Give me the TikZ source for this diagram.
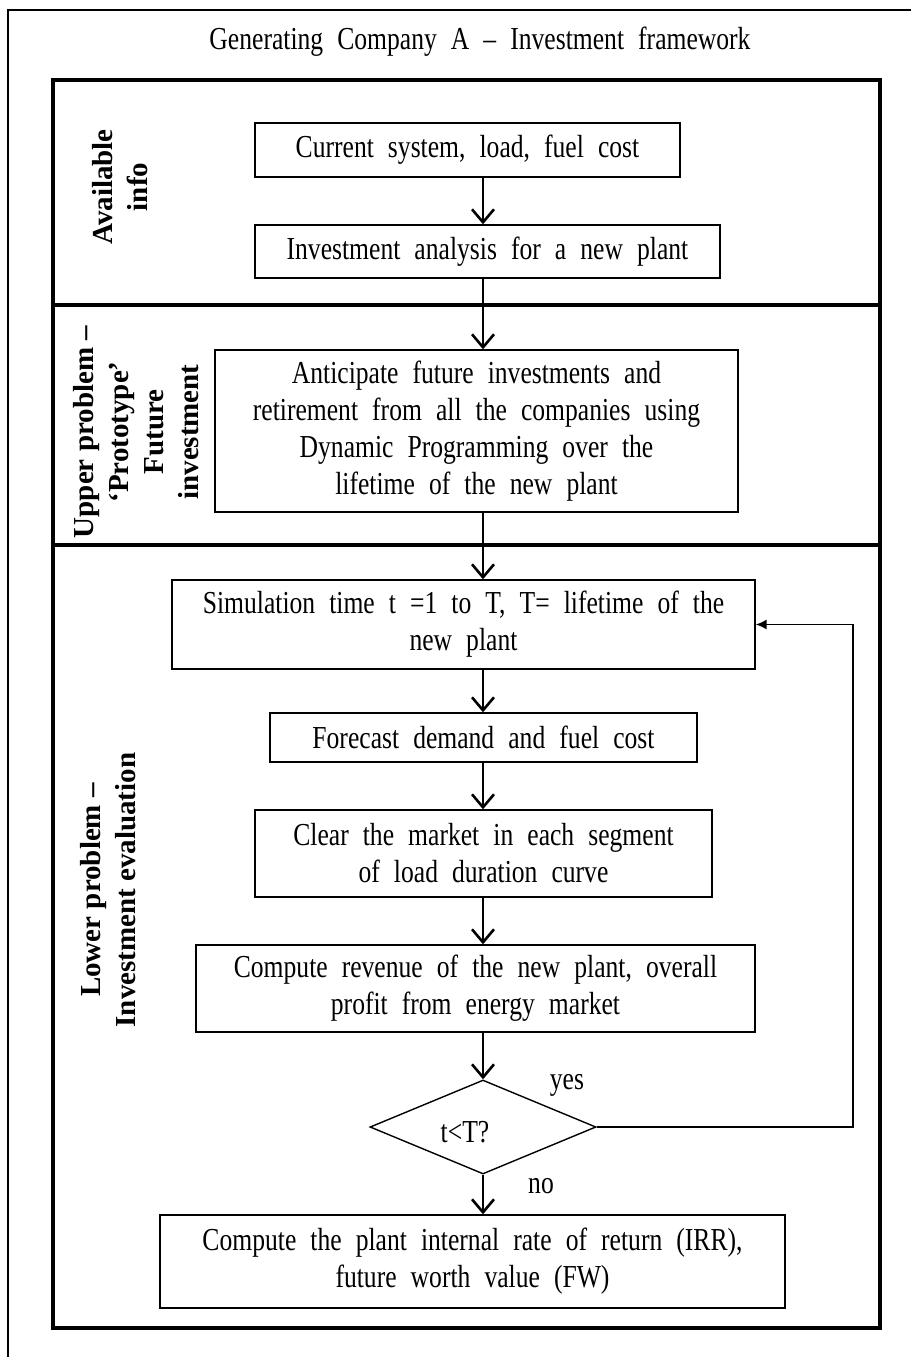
\documentclass[tikz,border=0pt]{standalone}
\usepackage{fontspec}
\setmainfont{Liberation Serif}[FakeStretch=0.8, WordSpace=2.2]
\newfontfamily\bandfont{Liberation Serif}[Ligatures=TeX]
\usetikzlibrary{arrows.meta,shapes.geometric}
\begin{document}
\begin{tikzpicture}[x=1pt,y=-1pt,
  txt/.style={font=\fontsize{32}{37}\selectfont, align=center},
  box/.style={draw, line width=1.4pt, txt, inner sep=0pt},
  lbl/.style={font=\bandfont\bfseries\fontsize{29}{35}\selectfont, align=center, rotate=90},
  flow/.style={line width=2.6pt, -{Straight Barb[length=13pt,width=22pt,line width=2.6pt]}},
  loopback/.style={line width=1.5pt, -{Latex[length=11pt,width=10pt]}},
  panel/.style={line width=4pt},
]
\useasboundingbox (0,0) rectangle (911,1357);
\fill[white] (0,0) rectangle (911,1357);

% outer sheet border and title
\draw[line width=2pt] (8,1357) -- (8,10) -- (911,10);
\node[txt] (title) at (480,42) {Generating Company A – Investment framework};

% framework panel with its three bands
\draw[panel] (53,80) rectangle (880,1328);
\draw[panel] (53,305) -- (880,305);
\draw[panel] (53,545) -- (880,545);

% band labels
\node[lbl] (l1) at (120,187) {Available\\info};
\node[lbl] (l2) at (136,432) {Upper problem –\\‘Prototype’\\Future\\investment};
\node[lbl] (l3) at (108,890) {Lower problem –\\Investment evaluation};

% flow steps
\node[box, minimum width=425, minimum height=54] (b1) at (467.5,150) {Current system, load, fuel cost};
\node[box, minimum width=465, minimum height=53] (b2) at (487.5,251.5) {Investment analysis for a new plant};
\node[box, minimum width=523, minimum height=162] (b3) at (476.5,431) {Anticipate future investments and\\retirement from all the companies using\\Dynamic Programming over the\\lifetime of the new plant};
\node[box, minimum width=583, minimum height=89] (b4) at (463.5,624.5) {Simulation time t =1 to T, T= lifetime of the\\new plant};
\node[box, minimum width=427, minimum height=49] (b5) at (483.5,737.5) {Forecast demand and fuel cost};
\node[box, minimum width=457, minimum height=87] (b6) at (483.5,853.5) {Clear the market in each segment\\of load duration curve};
\node[box, minimum width=559, minimum height=87] (b7) at (475.5,988.5) {Compute revenue of the new plant, overall\\profit from energy market};
\node[draw, diamond, line width=1.4pt, txt, inner sep=0pt, minimum width=226, minimum height=94] (d) at (483,1127) {};
\node[txt] (dq) at (465,1132) {t<T?};
\node[box, minimum width=625, minimum height=93] (b9) at (472.5,1261.5) {Compute the plant internal rate of return (IRR),\\future worth value (FW)};

% connectors
\coordinate (ax) at (483,0);
\coordinate (lp) at (853,0);
\draw[flow] (b1.south -| ax) -- (b2.north -| ax);
\draw[flow] (b2.south -| ax) -- (b3.north -| ax);
\draw[flow] (b3.south -| ax) -- (b4.north -| ax);
\draw[flow] (b4.south -| ax) -- (b5.north -| ax);
\draw[flow] (b5.south -| ax) -- (b6.north -| ax);
\draw[flow] (b6.south -| ax) -- (b7.north -| ax);
\draw[flow] (b7.south -| ax) -- (d.north);
\draw[flow] (d.south) -- (b9.north -| ax);
\draw[loopback] (d.east) -- (d.east -| lp) -- (b4.east -| lp) -- (b4.east);

\node[txt] (yes) at (567,1085) {yes};
\node[txt] (no) at (541,1186) {no};
\end{tikzpicture}
\end{document}
